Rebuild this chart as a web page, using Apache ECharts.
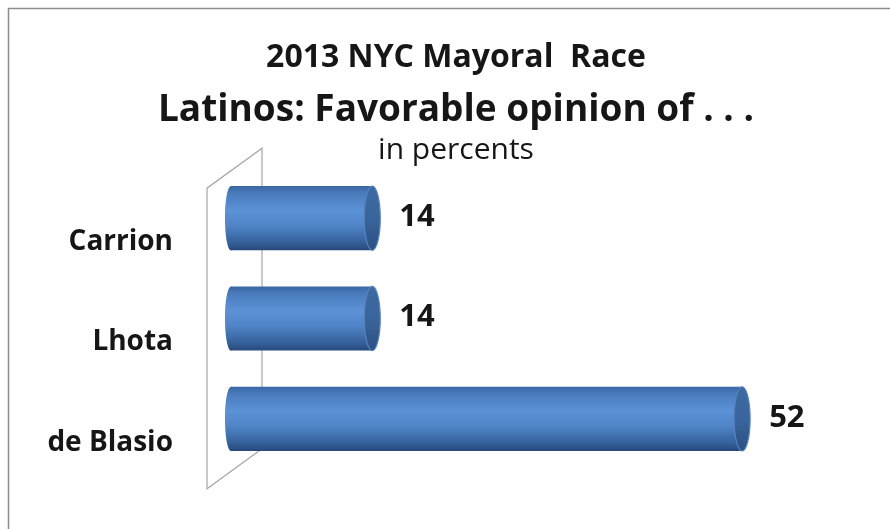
<!DOCTYPE html>
<html>
<head>
<meta charset="utf-8">
<script src="https://cdn.jsdelivr.net/npm/echarts@6/dist/echarts.min.js"></script>
<style>
  html, body { margin: 0; padding: 0; background: #ffffff; }
  #chart { width: 890px; height: 529px; }
</style>
</head>
<body>
<div id="chart"></div>
<script>
// Candidates, top to bottom, and their favorable share (percent)
const candidates = ['Carrion', 'Lhota', 'de Blasio'];
const favorable = [14, 14, 52];

const titleMain = '2013 NYC Mayoral  Race';
const titleSub = 'Latinos: Favorable opinion of . . .';
const unitNote = 'in percents';

const FONT = '"Open Sans", "Noto Sans", sans-serif';
const INK = '#161616';
const TITLE_X = 451;

const bodyGradient = {
  type: 'linear', x: 0, y: 0, x2: 0, y2: 1,
  colorStops: [
    { offset: 0, color: '#3a67a3' },
    { offset: 0.12, color: '#4a7cbd' },
    { offset: 0.38, color: '#5c92d6' },
    { offset: 0.62, color: '#4f84c7' },
    { offset: 0.88, color: '#35609a' },
    { offset: 1, color: '#27497a' }
  ]
};
const capGradient = {
  type: 'linear', x: 0, y: 0, x2: 0, y2: 1,
  colorStops: [
    { offset: 0, color: '#3d6aa3' },
    { offset: 0.5, color: '#3a659c' },
    { offset: 1, color: '#2b4f82' }
  ]
};

// Horizontal cylinder for each candidate, with its value at the end
function renderCylinder(params, api) {
  const idx = api.value(0);
  const val = api.value(1);
  const start = api.coord([0, idx]);
  const end = api.coord([val, idx]);
  const band = api.size([0, 1])[1];
  const h = band * 0.64;
  const ry = h / 2;
  const rx = 8;
  const cy = start[1];
  const base = start[0] - 5;
  return {
    type: 'group',
    children: [
      { type: 'ellipse', shape: { cx: base, cy: cy, rx: 6, ry: ry }, style: { fill: bodyGradient } },
      { type: 'rect', shape: { x: base, y: cy - ry, width: end[0] - base, height: h }, style: { fill: bodyGradient } },
      { type: 'ellipse', shape: { cx: end[0], cy: cy, rx: rx, ry: ry }, style: { fill: capGradient, stroke: '#5683bd', lineWidth: 1.2 } },
      {
        type: 'text',
        style: {
          x: end[0] + rx + 19, y: cy - 1,
          text: String(val),
          fill: INK,
          font: 'bold 31px ' + FONT,
          align: 'left', verticalAlign: 'middle'
        }
      }
    ]
  };
}

const chart = echarts.init(document.getElementById('chart'), null, { renderer: 'canvas' });

chart.setOption({
  backgroundColor: '#ffffff',
  animation: false,
  title: [
    { text: titleMain, left: TITLE_X, textAlign: 'center', top: 37, textStyle: { fontFamily: FONT, fontWeight: 'bold', fontSize: 32, color: INK } },
    { text: titleSub, left: TITLE_X, textAlign: 'center', top: 87, textStyle: { fontFamily: FONT, fontWeight: 'bold', fontSize: 37, color: INK } },
    { text: unitNote, left: TITLE_X, textAlign: 'center', top: 130, textStyle: { fontFamily: FONT, fontWeight: 'normal', fontSize: 30, color: INK } }
  ],
  grid: { left: 236, right: 70, top: 168, bottom: 60 },
  xAxis: {
    type: 'value', min: 0, max: 60,
    show: false
  },
  yAxis: {
    type: 'category', data: candidates, inverse: true,
    axisLine: { show: false }, axisTick: { show: false }, splitLine: { show: false },
    axisLabel: {
      margin: 63,
      color: INK,
      fontFamily: FONT, fontWeight: 'bold', fontSize: 28,
      verticalAlign: 'top',
      lineHeight: 48
    }
  },
  series: [{
    type: 'custom',
    renderItem: renderCylinder,
    encode: { x: 1, y: 0 },
    data: favorable.map((v, i) => [i, v]),
    z: 3
  }]
});

// Chart frame and the slanted back wall beside the category axis
const x0 = chart.convertToPixel({ xAxisIndex: 0 }, 0);
const yTop = chart.convertToPixel({ yAxisIndex: 0 }, 0) - 50;
const yBot = chart.convertToPixel({ yAxisIndex: 0 }, candidates.length - 1) + 50;
const wallBack = x0 + 26, wallFront = x0 - 29, depth = 20;
chart.setOption({
  graphic: [
    { type: 'rect', shape: { x: 8.5, y: 8.5, width: 900, height: 540 }, style: { fill: null, stroke: '#8c8c8c', lineWidth: 1.5 }, z: 10 },
    {
      type: 'polyline', z: 0,
      shape: { points: [[wallBack, yBot - depth], [wallBack, yTop - depth], [wallFront, yTop + depth], [wallFront, yBot + depth], [wallBack, yBot - depth]] },
      style: { stroke: '#a6a6a6', lineWidth: 1.2, fill: null }
    }
  ]
});
</script>
</body>
</html>
